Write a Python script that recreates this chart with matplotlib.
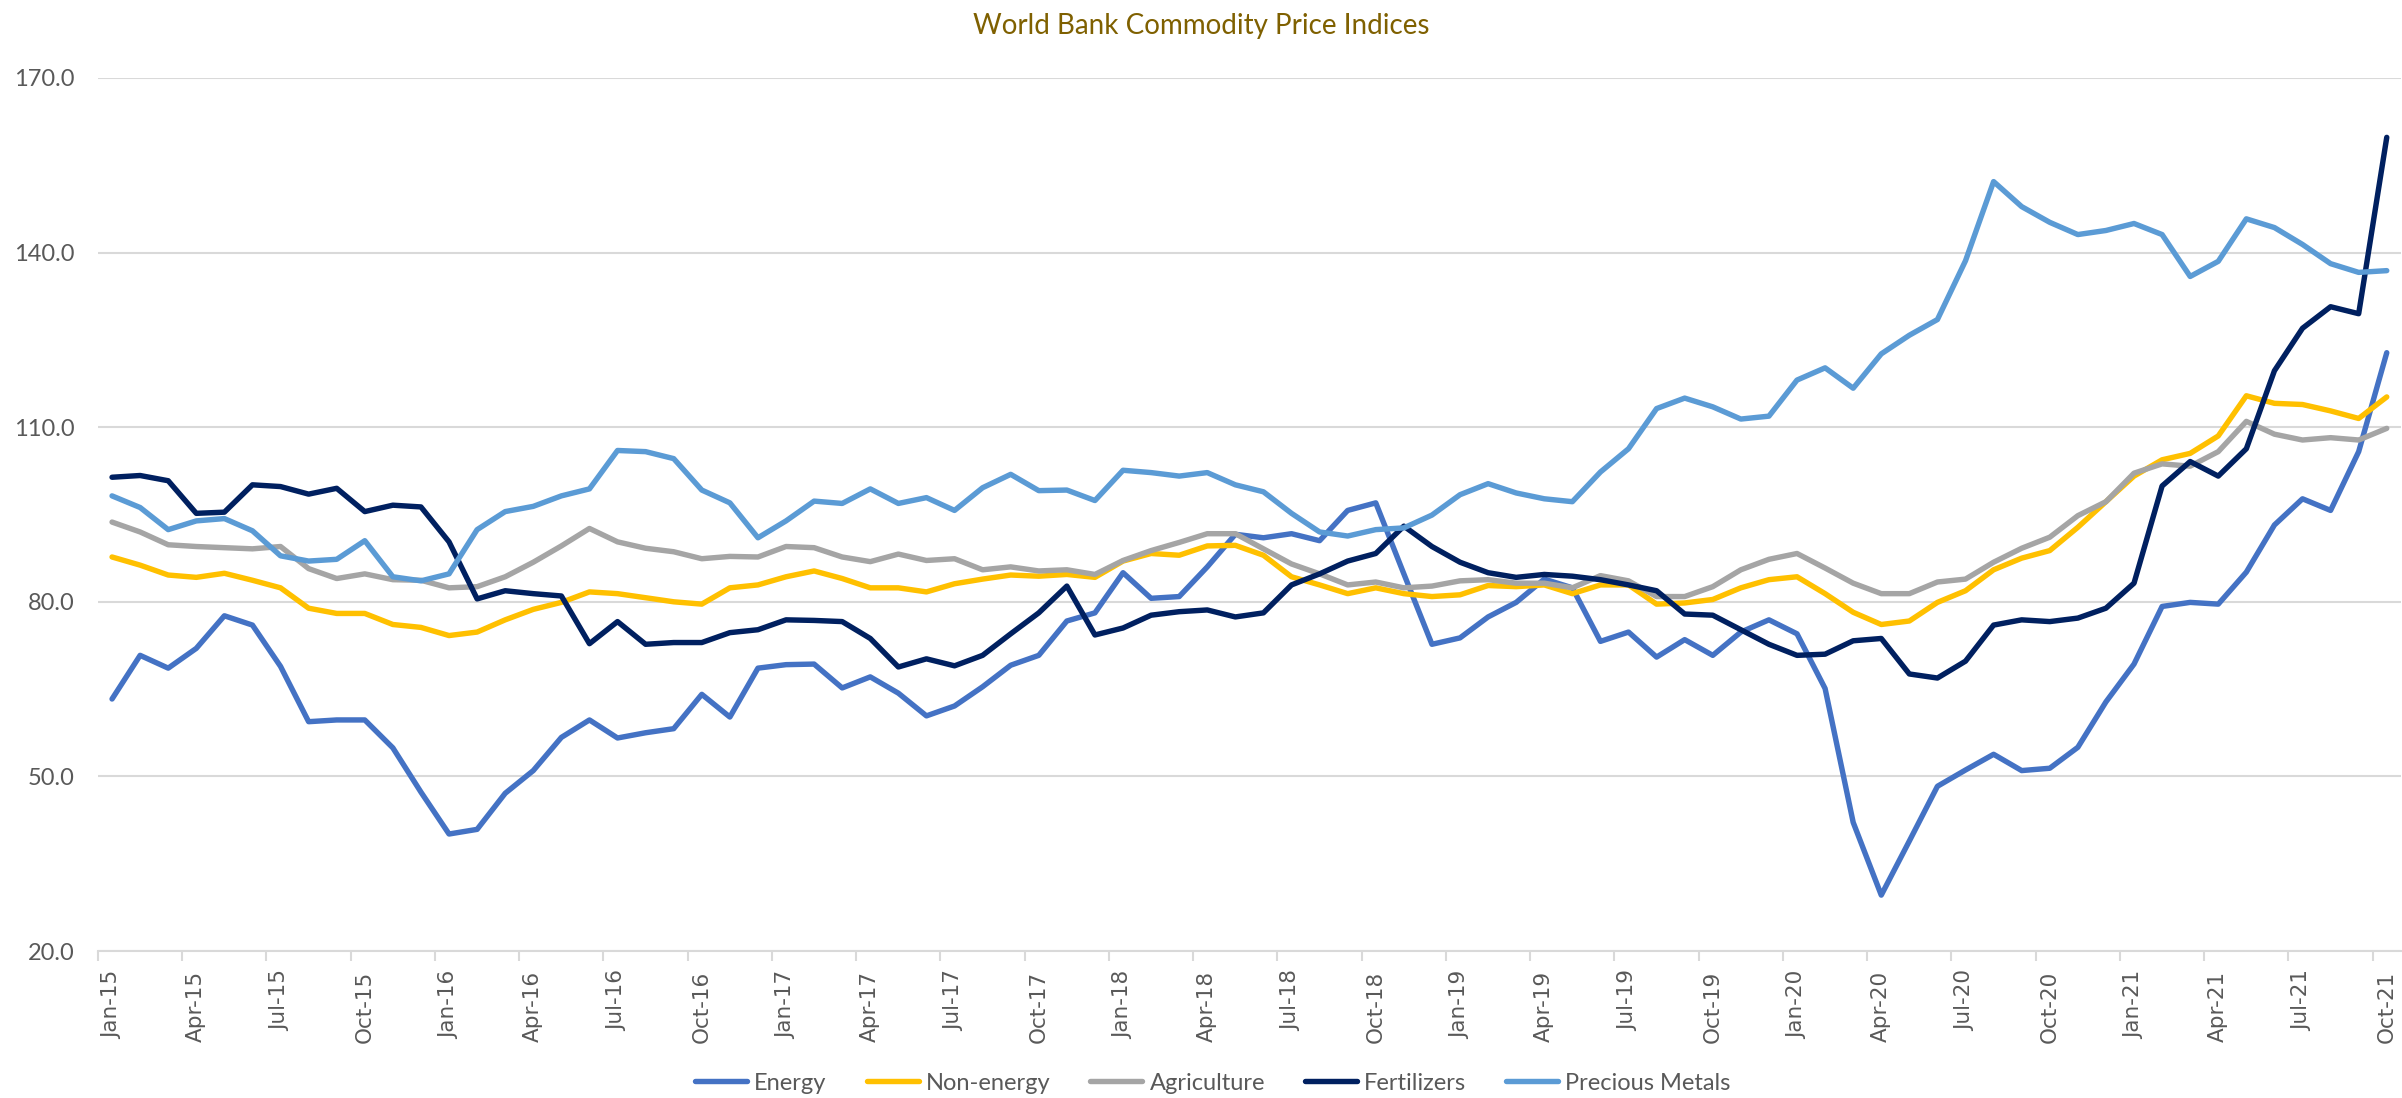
import matplotlib
matplotlib.use("Agg")
import matplotlib.pyplot as plt
import pandas as pd
import numpy as np

months = pd.date_range("2015-01-01", periods=82, freq="MS").strftime("%b-%y").tolist()

energy = [63.3, 70.8, 68.6, 72.0, 77.6, 76.0, 68.9, 59.4, 59.7, 59.7, 54.9, 47.3, 40.1, 40.9,
          47.1, 51.0, 56.7, 59.7, 56.6, 57.5, 58.2, 64.1, 60.2, 68.6, 69.2, 69.3, 65.2, 67.1,
          64.3, 60.4, 62.1, 65.4, 69.1, 70.8, 76.7, 78.1, 85.0, 80.6, 80.9, 86.0, 91.6, 91.0,
          91.7, 90.5, 95.7, 97.0, 84.8, 72.7, 73.8, 77.4, 79.9, 83.9, 82.4, 73.2, 74.8, 70.5,
          73.5, 70.8, 74.8, 76.9, 74.5, 65.1, 42.1, 29.6, 38.9, 48.3, 51.1, 53.8, 51.0, 51.4,
          55.0, 62.8, 69.3, 79.2, 79.9, 79.6, 85.1, 93.2, 97.7, 95.7, 105.8, 122.8]

non_energy = [87.7, 86.3, 84.6, 84.2, 84.9, 83.7, 82.4, 78.9, 78.0, 78.0, 76.1, 75.6, 74.2, 74.8,
              76.9, 78.7, 79.9, 81.7, 81.4, 80.7, 80.0, 79.6, 82.4, 82.9, 84.3, 85.3, 84.0, 82.4,
              82.4, 81.7, 83.1, 83.9, 84.6, 84.4, 84.7, 84.2, 87.0, 88.3, 88.0, 89.6, 89.7, 88.0,
              84.3, 82.9, 81.4, 82.4, 81.4, 80.9, 81.2, 82.8, 82.6, 82.9, 81.4, 82.9, 82.9, 79.6,
              79.8, 80.4, 82.4, 83.8, 84.3, 81.4, 78.2, 76.1, 76.7, 79.9, 81.9, 85.5, 87.5, 88.8,
              92.8, 97.2, 101.6, 104.4, 105.5, 108.5, 115.4, 114.1, 113.9, 112.8, 111.5, 115.2]

agriculture = [93.7, 92.0, 89.8, 89.5, 89.3, 89.1, 89.5, 85.7, 84.0, 84.8, 83.8, 83.7, 82.4, 82.6,
               84.3, 86.8, 89.6, 92.6, 90.3, 89.2, 88.6, 87.4, 87.8, 87.7, 89.5, 89.3, 87.7, 86.9,
               88.2, 87.1, 87.4, 85.5, 86.0, 85.3, 85.5, 84.7, 87.1, 88.8, 90.2, 91.7, 91.7, 89.1,
               86.5, 84.8, 82.9, 83.4, 82.4, 82.7, 83.6, 83.8, 83.2, 83.2, 82.4, 84.5, 83.6, 80.9,
               80.9, 82.6, 85.5, 87.3, 88.3, 85.8, 83.2, 81.4, 81.4, 83.4, 83.9, 86.8, 89.2, 91.1,
               94.8, 97.2, 102.1, 103.7, 103.3, 105.8, 111.0, 108.8, 107.8, 108.2, 107.8, 109.8]

fertilizers = [101.4, 101.7, 100.8, 95.2, 95.4, 100.1, 99.8, 98.5, 99.5, 95.5, 96.6, 96.3, 90.3, 80.5,
               81.9, 81.4, 81.0, 72.8, 76.6, 72.7, 73.0, 73.0, 74.7, 75.2, 76.9, 76.8, 76.6, 73.7,
               68.8, 70.2, 69.0, 70.8, 74.5, 78.1, 82.7, 74.3, 75.5, 77.7, 78.3, 78.6, 77.4, 78.1,
               82.9, 84.8, 87.0, 88.3, 93.0, 89.5, 86.8, 85.0, 84.2, 84.7, 84.4, 83.8, 82.9, 81.9,
               77.9, 77.7, 75.2, 72.7, 70.8, 71.0, 73.3, 73.7, 67.6, 66.9, 69.8, 76.0, 76.9, 76.6,
               77.2, 78.9, 83.2, 99.9, 104.1, 101.6, 106.3, 119.7, 127.0, 130.7, 129.5, 159.8]

precious_metals = [98.2, 96.2, 92.4, 93.9, 94.3, 92.2, 87.9, 87.0, 87.3, 90.5, 84.3, 83.6, 84.8, 92.4,
                   95.5, 96.4, 98.2, 99.4, 106.0, 105.8, 104.6, 99.2, 97.0, 91.0, 93.9, 97.3, 96.9, 99.4,
                   96.9, 97.9, 95.7, 99.6, 101.9, 99.1, 99.2, 97.4, 102.6, 102.2, 101.6, 102.2, 100.1, 98.9,
                   95.2, 92.0, 91.3, 92.4, 92.7, 94.9, 98.4, 100.3, 98.7, 97.7, 97.2, 102.3, 106.3, 113.2,
                   115.0, 113.5, 111.4, 111.9, 118.1, 120.2, 116.7, 122.6, 125.8, 128.5, 138.6, 152.2,
                   147.9, 145.2, 143.1, 143.8, 145.0, 143.1, 135.9, 138.5, 145.8, 144.3, 141.4, 138.1,
                   136.6, 136.9]

series_names = ["Energy", "Non-energy", "Agriculture", "Fertilizers", "Precious Metals"]
series_values = [energy, non_energy, agriculture, fertilizers, precious_metals]
series_colors = ["#4472C4", "#FFC000", "#A5A5A5", "#002060", "#5B9BD5"]
y_ticks = [20.0, 50.0, 80.0, 110.0, 140.0, 170.0]

W, H = 2402, 1098
fig = plt.figure(figsize=(W / 100, H / 100), dpi=100)
ax = fig.add_axes([98 / W, 1 - 951 / H, 1 - 98 / W - 0.0005, (951 - 78) / H])

x = np.arange(len(months))
for name, vals, col in zip(series_names, series_values, series_colors):
    ax.plot(x, vals, color=col, lw=3.9, label=name, solid_joinstyle="round", solid_capstyle="round")

ax.set_xlim(-0.5, len(months) - 0.5)
ax.set_ylim(20, 170)
ax.set_yticks(y_ticks)
ax.set_yticklabels([f"{v:.1f}" for v in y_ticks], fontsize=17, color="#595959", family="Lato")
ax.tick_params(axis="y", length=0, pad=17)
ax.grid(axis="y", color="#D9D9D9", lw=1.5)
ax.set_axisbelow(True)

ax.set_xticks(x[::3])
ax.set_xticklabels(months[::3], rotation=90, fontsize=15.5, color="#595959", family="DejaVu Sans")
ax.set_xticks(np.arange(-0.5, len(months) - 0.5, 3), minor=True)
ax.tick_params(axis="x", which="major", length=0, pad=14)
ax.tick_params(axis="x", which="minor", length=7, width=1.5, color="#D9D9D9")

for s in ["top", "right", "left"]:
    ax.spines[s].set_visible(False)
ax.spines["bottom"].set_color("#D9D9D9")
ax.spines["bottom"].set_linewidth(1.5)

fig.text(0.5, 1 - 26 / H, "World Bank Commodity Price Indices", ha="center", va="center",
         fontsize=20, color="#7F6000", family="Lato")

fig.legend(loc="center", bbox_to_anchor=(0.505, 1 - 1083 / H), ncol=5, frameon=False,
           prop={"family": "Lato", "size": 17}, handlelength=2.2, columnspacing=1.7,
           handletextpad=0.3, labelcolor="#595959")

fig.savefig("out.png", dpi=100)
